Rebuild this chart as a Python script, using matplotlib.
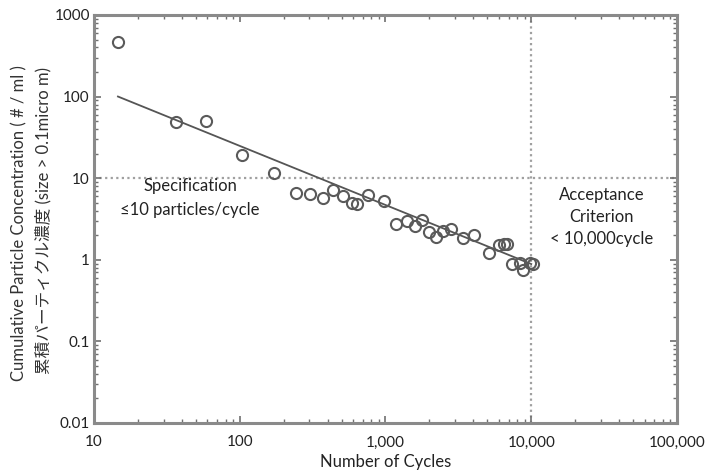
import matplotlib
matplotlib.use("Agg")
import matplotlib.pyplot as plt
import numpy as np
from matplotlib.ticker import FixedLocator, LogLocator, NullFormatter

plt.rcParams['font.family'] = ['Lato', 'Noto Sans CJK JP', 'DejaVu Sans']

# Data
cycles = [14.6, 36.8, 59, 103, 172, 243, 304, 374, 438, 513, 592, 641, 763, 969,
          1172, 1396, 1585, 1771, 1980, 2213, 2473, 2806, 3396, 4046, 5130, 6014,
          6500, 6830, 7396, 8395, 8810, 9843, 10330]
concentration = [469, 49, 50, 19, 11.5, 6.5, 6.4, 5.7, 7.1, 6.0, 4.9, 4.8, 6.2, 5.2,
                 2.75, 3.0, 2.6, 3.07, 2.19, 1.9, 2.26, 2.39, 1.85, 2.02, 1.22, 1.5,
                 1.57, 1.55, 0.89, 0.92, 0.76, 0.92, 0.89]

# Power-law fit line y = a * x^b
fit_a = 698.0
fit_b = -0.724
fit_range = [14.6, 10000]

spec_limit = 10
accept_limit = 10000

x_ticks = [10, 100, 1000, 10000, 100000]
x_labels = ["10", "100", "1,000", "10,000", "100,000"]
y_ticks = [0.01, 0.1, 1, 10, 100, 1000]
y_labels = ["0.01", "0.1", "1", "10", "100", "1000"]

fig = plt.figure(figsize=(7.13, 4.71), dpi=100)
ax = fig.add_axes([94/713, 1-423/471, (677-94)/713, (423-15)/471])
ax.set_xscale('log')
ax.set_yscale('log')
ax.set_xlim(10, 100000)
ax.set_ylim(0.01, 1000)

spine_c = '#8a8a8a'
for s in ax.spines.values():
    s.set_color(spine_c)
    s.set_linewidth(2.2)

ax.xaxis.set_major_locator(FixedLocator(x_ticks))
ax.set_xticklabels(x_labels)
ax.yaxis.set_major_locator(FixedLocator(y_ticks))
ax.set_yticklabels(y_labels)
ax.xaxis.set_minor_locator(LogLocator(base=10, subs=np.arange(2, 10)))
ax.yaxis.set_minor_locator(LogLocator(base=10, subs=np.arange(2, 10)))
ax.xaxis.set_minor_formatter(NullFormatter())
ax.yaxis.set_minor_formatter(NullFormatter())
ax.tick_params(which='both', direction='in', top=True, right=True, color='#707070')
ax.tick_params(which='major', length=5, width=1.2, labelsize=11, colors='#707070',
               labelcolor='#222222')
ax.tick_params(which='minor', length=3, width=1.0)
ax.tick_params(axis='x', which='major', pad=9)
ax.tick_params(axis='y', which='major', pad=3)

# reference lines
ax.axhline(spec_limit, color='#a0a0a0', linestyle=(0, (1.0, 1.5)), linewidth=1.6, zorder=1)
ax.axvline(accept_limit, color='#a0a0a0', linestyle=(0, (1.0, 1.5)), linewidth=1.6, zorder=1)

# fit line
fx = np.logspace(np.log10(fit_range[0]), np.log10(fit_range[1]), 50)
ax.plot(fx, fit_a * fx ** fit_b, color='#555555', linewidth=1.3, zorder=2)

# data
ax.plot(cycles, concentration, linestyle='none', marker='o', markersize=8,
        markerfacecolor='none', markeredgecolor='#5a5a5a', markeredgewidth=1.5, zorder=3)

ax.text(190/713, 1-198/471, "Specification\n≤10 particles/cycle", transform=fig.transFigure,
        ha='center', va='center', fontsize=12, color='#222222', linespacing=1.6)
ax.text(602/713, 1-217/471, "Acceptance\nCriterion\n< 10,000cycle", transform=fig.transFigure,
        ha='center', va='center', fontsize=12, color='#222222', linespacing=1.45)

ax.set_xlabel("Number of Cycles", fontsize=12, color='#222222', labelpad=3)
fig.text(19/713, 1-223/471, "Cumulative Particle Concentration ( # / ml )",
         rotation=90, ha='center', va='center', fontsize=12, color='#333333')
fig.text(43/713, 1-221/471, "累積パーティクル濃度 (size > 0.1micro m)",
         rotation=90, ha='center', va='center', fontsize=12, color='#333333')

fig.savefig("out.png", dpi=100)
